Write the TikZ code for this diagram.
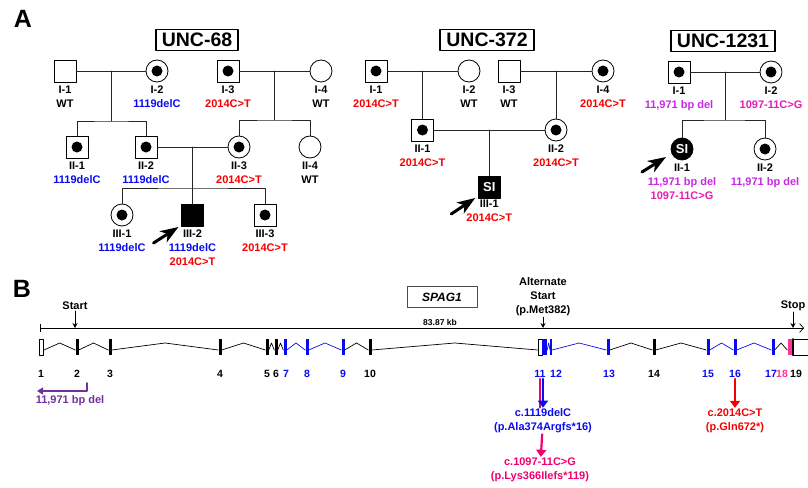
\documentclass[tikz,border=0pt]{standalone}
\usepackage{fontspec}
\setmainfont{Liberation Sans}
\usepackage{tikz}
\usetikzlibrary{calc,positioning,arrows.meta}

\definecolor{mblue}{RGB}{10,10,240}
\definecolor{mred}{RGB}{245,0,0}
\definecolor{pdel}{RGB}{200,40,230}
\definecolor{pspl}{RGB}{225,30,175}
\definecolor{mpurple}{RGB}{112,48,160}
\definecolor{mpink}{RGB}{255,51,153}
\definecolor{msplc}{RGB}{240,0,110}

\newcommand{\labfont}{\fontsize{11}{14}\selectfont\bfseries}
\newcommand{\delC}{\textcolor{mblue}{1119delC}}
\newcommand{\ctT}{\textcolor{mred}{2014C>T}}
\newcommand{\bpdel}{\textcolor{pdel}{11,971 bp del}}
\newcommand{\splG}{\textcolor{pspl}{1097-11C>G}}
% intron: exon -> peak -> exon
\newcommand{\intr}[3][black]{\draw[intron,#1] ($(#2.east)+(0,3)$) -- ($(#2.east)!0.5!(#3.west)+(0,-4)$) -- ($(#3.west)+(0,3)$);}

\begin{document}
\begin{tikzpicture}[x=1pt,y=-1pt,line cap=round,line join=round,
    male/.style={draw,rectangle,minimum size=22pt,inner sep=0pt,line width=0.8pt,fill=white},
    female/.style={draw,circle,minimum size=22pt,inner sep=0pt,line width=0.8pt,fill=white},
    carrier/.style={label={[circle,fill=black,inner sep=0pt,minimum size=11pt]center:{}}},
    affected/.style={fill=black,text=white,font=\fontsize{13}{13}\selectfont\bfseries},
    idlab/.style={below=2pt of #1,font=\labfont,align=center,inner sep=1pt},
    famname/.style={draw,line width=1.8pt,font=\fontsize{19.5}{20}\selectfont\bfseries,inner xsep=6pt,inner ysep=3.5pt},
    panel/.style={font=\fontsize{25}{25}\selectfont\bfseries,inner sep=0pt},
    ped/.style={line width=0.9pt,black!85},
    proband/.style={line width=3pt,-{Stealth[length=18pt,width=13pt,inset=5pt]}},
    exon/.style={rectangle,inner sep=0pt,minimum width=3pt,minimum height=16pt},
    intron/.style={line width=0.7pt},
    exnum/.style={font=\fontsize{10.5}{12}\selectfont\bfseries,inner sep=1pt},
    gtxt/.style={font=\fontsize{11}{14}\selectfont\bfseries,align=center,inner sep=1pt},
    ptr/.style={line width=1pt,-{Stealth[length=5pt,width=5pt]}},
    mutar/.style={line width=2.2pt,-{Triangle[length=7pt,width=10pt]}}]
\useasboundingbox (0,0) rectangle (808,487);

\node[panel] (pA) at (23,19) {A};
\node[panel] (pB) at (22,289) {B};

% UNC-68
\node[famname] (f68) at (197,40) {UNC-68};
\node[male] (u68I1) at (65,71) {};
\node[female,carrier] (u68I2) at (157,71) {};
\node[male,carrier] (u68I3) at (228,71) {};
\node[female] (u68I4) at (321,71) {};
\node[male,carrier] (u68II1) at (77,147) {};
\node[male,carrier] (u68II2) at (146,147) {};
\node[female,carrier] (u68II3) at (239,147) {};
\node[female] (u68II4) at (310,147) {};
\node[female,carrier] (u68III1) at (122,215) {};
\node[male,fill=black] (u68III2) at (192.5,215) {};
\node[male,carrier] (u68III3) at (265,215) {};
\coordinate (u68m1) at ($(u68I1)!0.5!(u68I2)$);
\coordinate (u68s1) at ($(u68m1)+(0,50)$);
\coordinate (u68m2) at ($(u68I3)!0.5!(u68I4)$);
\coordinate (u68s2) at ($(u68m2)+(0,49)$);
\coordinate (u68m3) at ($(u68II2)!0.5!(u68II3)$);
\coordinate (u68s3) at ($(u68m3)+(0,41)$);
\draw[ped] (u68I1) -- (u68I2);
\draw[ped] (u68m1) -- (u68s1);
\draw[ped] (u68II1) |- (u68s1) -| (u68II2);
\draw[ped] (u68I3) -- (u68I4);
\draw[ped] (u68m2) -- (u68s2);
\draw[ped] (u68II3) |- (u68s2) -| (u68II4);
\draw[ped] (u68II2) -- (u68II3);
\draw[ped] (u68m3) -- (u68III2);
\draw[ped] (u68III1) |- (u68s3) -| (u68III3);
\node[idlab=u68I1] (u68I1t) {I-1\\WT};
\node[idlab=u68I2] (u68I2t) {I-2\\\delC};
\node[idlab=u68I3] (u68I3t) {I-3\\\ctT};
\node[idlab=u68I4] (u68I4t) {I-4\\WT};
\node[idlab=u68II1] (u68II1t) {II-1\\\delC};
\node[idlab=u68II2] (u68II2t) {II-2\\\delC};
\node[idlab=u68II3] (u68II3t) {II-3\\\ctT};
\node[idlab=u68II4] (u68II4t) {II-4\\WT};
\node[idlab=u68III1] (u68III1t) {III-1\\\delC};
\node[idlab=u68III2] (u68III2t) {III-2\\\delC\\\ctT};
\node[idlab=u68III3] (u68III3t) {III-3\\\ctT};
\draw[proband] ($(u68III2)+(-39,28)$) -- ($(u68III2)+(-14,12)$);

% UNC-372
\node[famname] (f372) at (487,40) {UNC-372};
\node[male,carrier] (u372I1) at (376,71) {};
\node[female] (u372I2) at (469,71) {};
\node[male] (u372I3) at (509,71) {};
\node[female,carrier] (u372I4) at (603,71) {};
\node[male,carrier] (u372II1) at (422.5,130) {};
\node[female,carrier] (u372II2) at (556,130) {};
\node[male,affected] (u372III1) at (489.25,187) {SI};
\coordinate (u372m1) at ($(u372I1)!0.5!(u372I2)$);
\coordinate (u372m2) at ($(u372I3)!0.5!(u372I4)$);
\coordinate (u372m3) at ($(u372II1)!0.5!(u372II2)$);
\draw[ped] (u372I1) -- (u372I2);
\draw[ped] (u372m1) -- (u372II1);
\draw[ped] (u372I3) -- (u372I4);
\draw[ped] (u372m2) -- (u372II2);
\draw[ped] (u372II1) -- (u372II2);
\draw[ped] (u372m3) -- (u372III1);
\node[idlab=u372I1] (u372I1t) {I-1\\\ctT};
\node[idlab=u372I2] (u372I2t) {I-2\\WT};
\node[idlab=u372I3] (u372I3t) {I-3\\WT};
\node[idlab=u372I4] (u372I4t) {I-4\\\ctT};
\node[idlab=u372II1] (u372II1t) {II-1\\\ctT};
\node[idlab=u372II2] (u372II2t) {II-2\\\ctT};
\node[idlab=u372III1,below=0pt of u372III1] (u372III1t) {III-1\\\ctT};
\draw[proband] ($(u372III1)+(-38,27)$) -- ($(u372III1)+(-14,11)$);

% UNC-1231
\node[famname] (f1231) at (723,41) {UNC-1231};
\node[male,carrier] (u1231I1) at (679,72) {};
\node[female,carrier] (u1231I2) at (771,72) {};
\node[female,affected] (u1231II1) at (682,149) {SI};
\node[female,carrier] (u1231II2) at (765,149) {};
\coordinate (u1231m1) at ($(u1231I1)!0.5!(u1231I2)$);
\coordinate (u1231s1) at ($(u1231m1)+(0,48)$);
\draw[ped] (u1231I1) -- (u1231I2);
\draw[ped] (u1231m1) -- (u1231s1);
\draw[ped] (u1231II1) |- (u1231s1) -| (u1231II2);
\node[idlab=u1231I1] (u1231I1t) {I-1\\\bpdel};
\node[idlab=u1231I2] (u1231I2t) {I-2\\\splG};
\node[idlab=u1231II1] (u1231II1t) {II-1\\\bpdel\\\splG};
\node[idlab=u1231II2] (u1231II2t) {II-2\\\bpdel};
\draw[proband] ($(u1231II1)+(-40,23)$) -- ($(u1231II1)+(-16,8)$);

% SPAG1 gene
\node[draw=black!70,line width=0.6pt,minimum width=70pt,minimum height=21pt,font=\fontsize{12}{12}\selectfont\bfseries\itshape] (spag) at (442,297) {SPAG1};
\node[font=\fontsize{8.5}{10}\selectfont\bfseries,inner sep=1pt] (kb) at (440,322) {83.87 kb};
\coordinate (sl) at (40,328);
\coordinate (sr) at (804,328);
\draw[line width=0.7pt,{Bar[width=8pt]}-{Straight Barb[length=4pt,width=9pt,line width=0.7pt]}] (sl) -- (sr);
\node[gtxt] (strt) at (75,306) {Start};
\node[gtxt] (alts) at (543,297) {Alternate\\Start\\(p.Met382)};
\node[gtxt] (stp) at (793,306) {Stop};
\draw[ptr] (strt) -- (strt |- sl);
\draw[ptr] (alts) -- (alts |- sl);
\draw[ptr] (stp) -- (stp |- sl);

\node[exon,draw,fill=white,line width=0.6pt,minimum width=4.5pt] (e1) at (41.5,347) {};
\foreach \n/\x/\c in {2/77/black,3/110/black,4/220/black,5/267/black,6/276/black,7/285/mblue,8/307/mblue,9/343/mblue,10/370/black,13/608/mblue,14/654/black,15/708/mblue,16/735/mblue,17/773/mblue}
  \node[exon,fill=\c] (e\n) at (\x,347) {};
\node[exon,draw,fill=white,line width=0.6pt,minimum width=4pt] (e11a) at (540,347) {};
\node[exon,fill=mblue,minimum width=5pt] (e11) at (544.5,347) {};
\node[exon,fill=mblue,minimum width=1.5pt] (e12) at (551,347) {};
\node[exon,fill=mpink,minimum width=5pt] (e18) at (790,347) {};
\draw[line width=0.8pt] (808,339) -| (793,355) -- (808,355);
\draw[line width=2pt] (793,339) -- (793,355);

\intr{e1}{e2} \intr{e2}{e3} \intr{e3}{e4} \intr{e4}{e5} \intr{e5}{e6} \intr{e6}{e7}
\intr[mblue]{e7}{e8} \intr[mblue]{e8}{e9} \intr{e9}{e10} \intr{e10}{e11a}
\intr[mblue]{e11}{e12} \intr[mblue]{e12}{e13} \intr{e13}{e14} \intr{e14}{e15}
\intr[mblue]{e15}{e16} \intr[mblue]{e16}{e17} \intr{e17}{e18}

\foreach \n/\x/\c in {1/41/black,2/77/black,3/110/black,4/220/black,5/267/black,6/276/black,7/286/mblue,8/307/mblue,9/343/mblue,10/370/black,11/540/mblue,12/556/mblue,13/609/mblue,14/654/black,15/708/mblue,16/735/mblue,17/771/mblue,18/782/mpink,19/796/black}
  \node[exnum,text=\c] (n\n) at (\x,374) {\n};

% deletion
\node[gtxt,text=mpurple] (dell) at (70,401) {11,971 bp del};
\coordinate (dr) at (87,383);
\coordinate (dl) at (37,391);
\draw[mpurple,line width=1.4pt,-{Triangle[length=6pt,width=7pt]}] (dr) |- (dl);

% mutations
\node[gtxt,text=mblue] (m1119) at (543,421) {c.1119delC\\(p.Ala374Argfs*16)};
\node[gtxt,text=msplc] (m1097) at (540,470) {c.1097-11C>G\\(p.Lys366Ilefs*119)};
\node[gtxt,text=mred] (m2014) at (735,421) {c.2014C>T\\(p.Gln672*)};
\draw[msplc,line width=2pt] (n11.south) -- (n11.south |- m1119.north);
\draw[mutar,mblue] (n11.south -| m1119.north) -- (m1119.north);
\draw[mutar,msplc] (m1119) -- (m1097);
\draw[mutar,mred] (n16) -- (m2014);
\end{tikzpicture}
\end{document}
